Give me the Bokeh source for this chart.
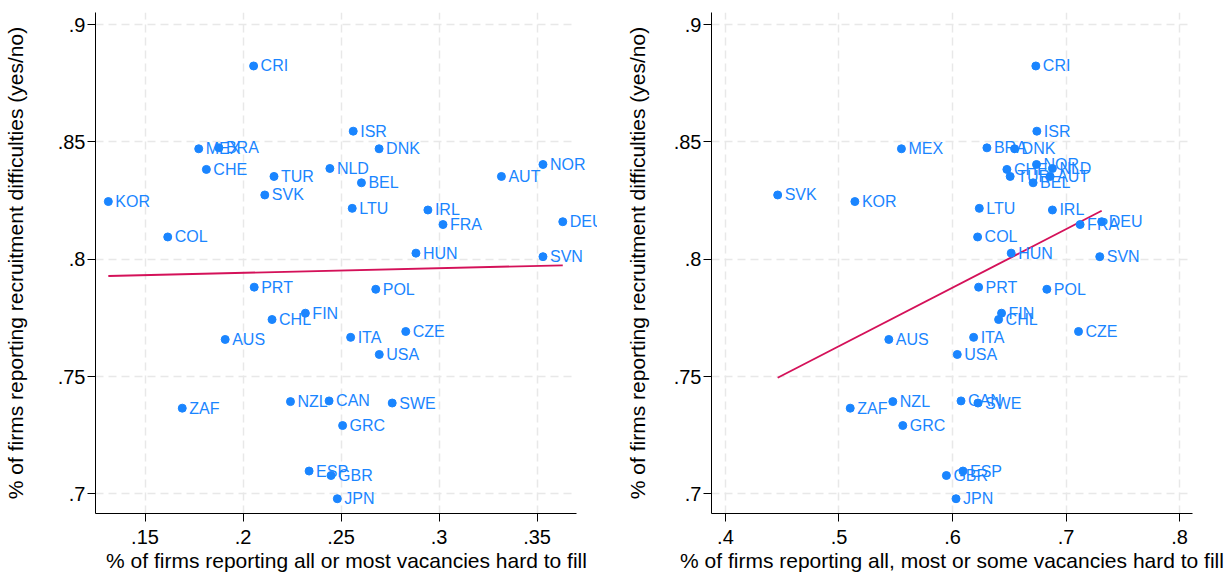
import numpy as np
from bokeh.plotting import figure
from bokeh.layouts import row
from bokeh.models import ColumnDataSource, FixedTicker, Range1d
from bokeh.core.properties import value
from bokeh.embed import file_html
from bokeh.resources import INLINE

countries = ["CRI", "ISR", "MEX", "BRA", "DNK", "CHE", "TUR", "NLD", "BEL", "NOR",
             "AUT", "SVK", "KOR", "LTU", "IRL", "FRA", "DEU", "COL", "HUN", "SVN",
             "PRT", "POL", "FIN", "CHL", "AUS", "ITA", "CZE", "USA", "NZL", "CAN",
             "SWE", "ZAF", "GRC", "ESP", "GBR", "JPN"]

# % of firms reporting recruitment difficulties (yes/no)
recruit_difficulties = [0.8824, 0.8546, 0.8471, 0.8475, 0.8471, 0.8383, 0.8353, 0.8387, 0.8326, 0.8404,
                        0.8353, 0.8274, 0.8246, 0.8217, 0.8210, 0.8148, 0.8160, 0.8095, 0.8026, 0.8011,
                        0.7881, 0.7872, 0.7770, 0.7743, 0.7658, 0.7667, 0.7692, 0.7594, 0.7393, 0.7396,
                        0.7387, 0.7365, 0.7291, 0.7097, 0.7078, 0.6979]

# % of firms reporting all or most vacancies hard to fill
hard_all_most = [0.2054, 0.2562, 0.1774, 0.1877, 0.2694, 0.1813, 0.2158, 0.2443, 0.2604, 0.3530,
                 0.3318, 0.2111, 0.1313, 0.2557, 0.2943, 0.3020, 0.3631, 0.1616, 0.2882, 0.3530,
                 0.2057, 0.2677, 0.2318, 0.2148, 0.1909, 0.2549, 0.2830, 0.2695, 0.2242, 0.2439,
                 0.2761, 0.1690, 0.2508, 0.2337, 0.2449, 0.2481]

# % of firms reporting all, most or some vacancies hard to fill
hard_all_most_some = [0.6734, 0.6743, 0.5550, 0.6303, 0.6547, 0.6479, 0.6508, 0.6880, 0.6710, 0.6740,
                      0.6860, 0.4460, 0.5140, 0.6236, 0.6880, 0.7124, 0.7314, 0.6221, 0.6517, 0.7297,
                      0.6230, 0.6831, 0.6432, 0.6406, 0.5439, 0.6186, 0.7110, 0.6042, 0.5474, 0.6075,
                      0.6224, 0.5099, 0.5562, 0.6092, 0.5946, 0.6031]

y_ticks = [0.7, 0.75, 0.8, 0.85, 0.9]
y_tick_labels = [".7", ".75", ".8", ".85", ".9"]
x1_ticks = [0.15, 0.2, 0.25, 0.3, 0.35]
x1_tick_labels = [".15", ".2", ".25", ".3", ".35"]
x2_ticks = [0.4, 0.5, 0.6, 0.7, 0.8]
x2_tick_labels = [".4", ".5", ".6", ".7", ".8"]

y_title = "% of firms reporting recruitment difficulties (yes/no)"
x1_title = "% of firms reporting all or most vacancies hard to fill"
x2_title = "% of firms reporting all, most or some vacancies hard to fill"

BLUE = "#1a85ff"
RED = "#d41159"
FONT = "Liberation Sans"


def make_panel(xvals, view_range, axis_span, xticks, xlabels, xtitle,
               border_left, border_right, width, ytitle_standoff):
    p = figure(width=width, height=578, output_backend="svg", toolbar_location=None,
               x_range=Range1d(*view_range), y_range=Range1d(0.6916, 0.9052),
               min_border_left=border_left, min_border_right=border_right,
               min_border_top=12, min_border_bottom=65)
    p.outline_line_color = None
    p.background_fill_color = "white"
    p.border_fill_color = "white"

    p.xaxis.ticker = FixedTicker(ticks=xticks)
    p.yaxis.ticker = FixedTicker(ticks=y_ticks)
    p.xaxis.major_label_overrides = {t: l for t, l in zip(xticks, xlabels)}
    p.yaxis.major_label_overrides = {t: l for t, l in zip(y_ticks, y_tick_labels)}
    p.xaxis.axis_label = xtitle
    p.yaxis.axis_label = y_title
    p.xaxis.bounds = axis_span
    for ax in (p.xaxis, p.yaxis):
        ax.axis_line_color = "black"
        ax.axis_line_width = 1
        ax.major_tick_line_color = "black"
        ax.major_tick_out = 8
        ax.major_tick_in = 0
        ax.minor_tick_line_color = None
        ax.major_label_text_font = FONT
        ax.major_label_text_font_size = "20px"
        ax.major_label_text_color = "black"
        ax.axis_label_text_font = FONT
        ax.axis_label_text_font_size = "21px"
        ax.axis_label_text_font_style = "normal"
        ax.axis_label_text_color = "black"
    p.yaxis.major_label_orientation = "horizontal"
    p.yaxis.major_label_standoff = 2
    p.yaxis.axis_label_standoff = ytitle_standoff
    p.xaxis.major_label_standoff = 8
    p.xaxis.axis_label_standoff = 2

    p.xgrid.ticker = FixedTicker(ticks=xticks)
    p.ygrid.ticker = FixedTicker(ticks=y_ticks)
    yg = p.ygrid[0]
    if "cross_bounds" in yg.properties():
        yg.cross_bounds = axis_span
    for g in (p.xgrid, p.ygrid):
        g.grid_line_color = "#e8e8e8"
        g.grid_line_width = 1.5
        g.grid_line_dash = "8 5"

    src = ColumnDataSource(dict(x=xvals, y=recruit_difficulties, name=countries))

    # linear fit
    slope, intercept = np.polyfit(np.array(xvals), np.array(recruit_difficulties), 1)
    fx = np.array([min(xvals), max(xvals)])
    p.line(fx, slope * fx + intercept, line_color=RED, line_width=1.8)

    p.scatter("x", "y", source=src, size=8, fill_color=BLUE, line_color=BLUE)
    p.text("x", "y", text="name", source=src, x_offset=7, text_baseline="middle",
           text_align="left", text_font=value(FONT), text_font_size="16px", text_color=BLUE)
    return p


p1 = make_panel(hard_all_most, (0.12475, 0.38081), (0.12475, 0.3702),
                x1_ticks, x1_tick_labels, x1_title, 90, 0, 597, 28)
p2 = make_panel(hard_all_most_some, (0.3877, 0.8114), (0.3877, 0.8114),
                x2_ticks, x2_tick_labels, x2_title, 114, 34, 629, 22)

layout = row(p1, p2)
open("out.html", "w").write(file_html(layout, INLINE))
